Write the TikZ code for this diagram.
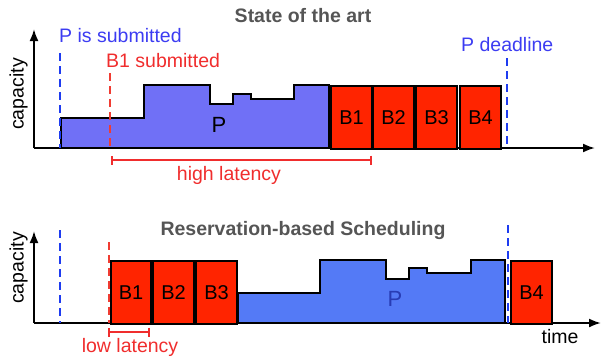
\documentclass[tikz,border=0pt]{standalone}
\usepackage{fontspec}
\setmainfont{Liberation Sans}
\usetikzlibrary{arrows.meta}
\definecolor{pA}{RGB}{112,112,246}
\definecolor{pB}{RGB}{84,122,246}
\definecolor{bred}{RGB}{255,36,0}
\definecolor{ttl}{RGB}{85,85,85}
\definecolor{tblue}{RGB}{60,60,242}
\definecolor{tred}{RGB}{240,45,45}
\definecolor{dblue}{RGB}{30,60,240}
\definecolor{dred}{RGB}{240,60,50}
\definecolor{pdark}{RGB}{40,60,180}
\begin{document}
\begin{tikzpicture}[x=1pt,y=-1pt,
  lbl/.style={font=\fontsize{19.5}{22}\selectfont, inner sep=0},
  plbl/.style={font=\fontsize{22}{24}\selectfont, inner sep=0, anchor=base},
  ttlstyle/.style={font=\fontsize{19.5}{22}\selectfont\bfseries, text=ttl, inner sep=0, anchor=base},
  blk/.style={draw=black, line width=2.2, fill=bred, anchor=north west, inner sep=0,
    minimum height=63, font=\fontsize{20}{22}\selectfont},
  shape P/.style={draw=black, line width=2.2, line join=miter},
  axis/.style={line width=2, -{Latex[length=12,width=9]}},
  bdash/.style={dblue, line width=2, dash pattern=on 8 off 5},
  rdash/.style={dred, line width=2, dash pattern=on 8 off 5},
  lat/.style={tred, line width=1.6, {Bar[width=9]}-{Bar[width=9]}}]
\useasboundingbox (0,0) rectangle (602,359);

% ---------- top panel ----------
\node[ttlstyle] (t1) at (303,22.5) {State of the art};
\coordinate (o1) at (34,148);
\coordinate (y1) at (34,29);
\coordinate (x1) at (595,148);
\draw[shape P, fill=pA] (61,148) -- (61,118) -- (144,118) -- (144,85) -- (210,85) -- (210,104)
  -- (233,104) -- (233,94) -- (251,94) -- (251,99) -- (294,99) -- (294,85) -- (329,85) -- (329,148) -- cycle;
\node[plbl] (p1) at (219,132) {P};
\draw[axis] (o1) -- (y1);
\draw[axis] (o1) -- (x1);
\node[blk, minimum width=41] (a1) at (330,85) {B1};
\node[blk, minimum width=41] (a2) at (372,85) {B2};
\node[blk, minimum width=41] (a3) at (415,85) {B3};
\node[blk, minimum width=41] (a4) at (459,85) {B4};
\node[lbl, anchor=base west, text=tblue] (ps) at (59,42) {P is submitted};
\node[lbl, anchor=base west, text=tred] (bs) at (106,67) {B1 submitted};
\node[lbl, anchor=base west, text=tblue] (pd) at (461,51) {P deadline};
\coordinate (ps1) at (60,53); \coordinate (ps2) at (60,148);
\coordinate (bs1) at (110,73); \coordinate (bs2) at (110,148);
\coordinate (pd1) at (507,58); \coordinate (pd2) at (507,148);
\draw[bdash] (ps1) -- (ps2);
\draw[rdash] (bs1) -- (bs2);
\draw[bdash] (pd1) -- (pd2);
\coordinate (hl1) at (111,160); \coordinate (hl2) at (372,160);
\draw[lat] (hl1) -- (hl2);
\node[lbl, anchor=base, text=tred] (hl) at (229,180) {high latency};
\node[lbl, rotate=90] (c1) at (18.5,94) {capacity};

% ---------- bottom panel ----------
\node[ttlstyle] (t2) at (303,235) {Reservation-based Scheduling};
\coordinate (o2) at (34,323);
\coordinate (y2) at (34,231);
\coordinate (x2) at (601,323);
\draw[shape P, fill=pB] (238,323) -- (238,293) -- (320,293) -- (320,260) -- (386,260) -- (386,279)
  -- (409,279) -- (409,268) -- (427,268) -- (427,273) -- (471,273) -- (471,260) -- (505,260) -- (505,323) -- cycle;
\node[plbl, text=pdark] (p2) at (395,306.5) {P};
\draw[axis] (o2) -- (y2);
\draw[axis] (o2) -- (x2);
\coordinate (bb1) at (109,242); \coordinate (bb2) at (109,323);
\draw[rdash] (bb1) -- (bb2);
\node[blk, minimum width=40] (b1) at (110,260) {B1};
\node[blk, minimum width=41] (b2) at (152,260) {B2};
\node[blk, minimum width=41] (b3) at (195,260) {B3};
\node[blk, minimum width=41] (b4) at (510,260) {B4};
\coordinate (bp1) at (60,230); \coordinate (bp2) at (60,323);
\coordinate (bd1) at (508,225); \coordinate (bd2) at (508,323);
\draw[bdash] (bp1) -- (bp2);
\draw[bdash] (bd1) -- (bd2);
\coordinate (ll1) at (108,332); \coordinate (ll2) at (150,332);
\draw[lat] (ll1) -- (ll2);
\node[lbl, anchor=base, text=tred] (ll) at (130,352.5) {low latency};
\node[lbl, anchor=base] (tm) at (560,343) {time};
\node[lbl, rotate=90] (c2) at (18.5,268) {capacity};
\end{tikzpicture}
\end{document}
